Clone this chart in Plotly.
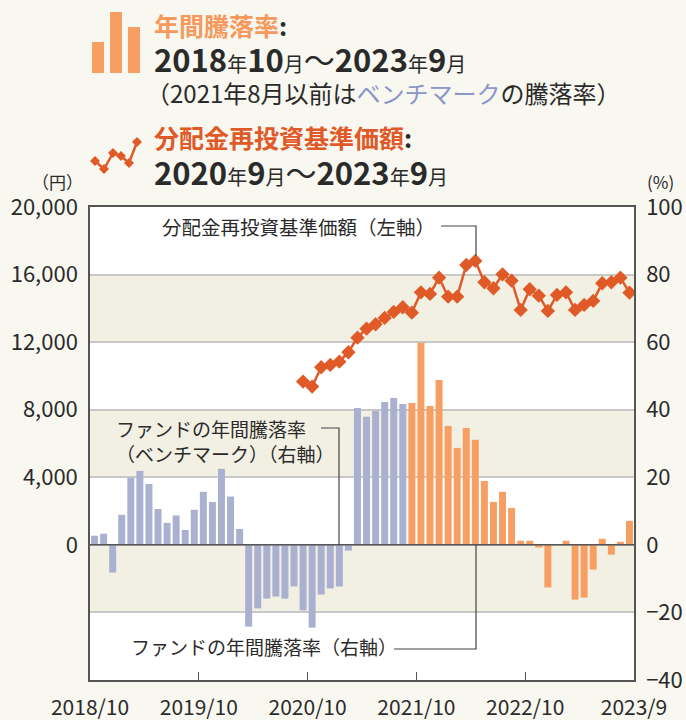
import plotly.graph_objects as go

W, H = 686, 720

# ---------------- data ----------------
tick_labels = ["2018/10", "2019/10", "2020/10", "2021/10", "2022/10", "2023/9"]
tick_months = [0, 12, 24, 36, 48, 60]

# annual return (%) 2018/10 .. 2021/8 : benchmark
bench_returns = [2.7, 3.3, -8.2, 8.9, 19.9, 21.9, 18.0, 10.6, 6.5, 8.7, 4.4, 10.4,
                 15.7, 12.7, 22.5, 14.3, 4.7, -24.2, -18.8, -15.9, -15.3, -15.9, -12.3, -19.4,
                 -24.5, -14.7, -12.9, -12.3, -1.7, 40.5, 37.9, 39.6, 42.3, 43.5, 41.7]
# annual return (%) 2021/9 .. 2023/9 : fund
fund_returns = [42.0, 59.8, 41.1, 48.8, 35.2, 28.7, 34.6, 31.1, 18.9, 12.7, 15.7, 10.9,
                1.2, 1.2, -0.8, -12.6, 0.0, 1.2, -16.2, -15.6, -7.3, 1.8, -2.9, 0.9, 7.1]
# NAV (yen) 2020/9 .. 2023/9
nav_values = [9663, 9367, 10515, 10651, 10846, 11402, 12266, 12799, 13059, 13432, 13787, 14065,
              13745, 14952, 14852, 15816, 14692, 14692, 16568, 16805, 15544, 15189, 16017, 15638,
              13905, 15130, 14751, 13846, 14793, 14952, 13905, 14201, 14437, 15485, 15544, 15816, 14929]
nav_start_index = 23  # 2020/9

left_ticks = [0, 4000, 8000, 12000, 16000, 20000]
right_ticks = [-40, -20, 0, 20, 40, 60, 80, 100]

# ---------------- styles ----------------
BG = "#f8f7f0"
BAND = "#f2efe3"
GRID = "#c8c8c8"
AXIS = "#555555"
ORANGE = "#f79f63"
BLUE = "#aab0cf"
RED = "#e05a28"
HEAD_ORANGE = "#f59a5c"
LAV = "#8c96c8"
TXT = "#2a2a2a"
FONT = "Noto Sans CJK JP"

x0px, x1px, y0px, y1px = 90, 634, 207, 680


def px(x):
    return x / W


def py(y):
    return 1 - y / H


bench_x = [i + 0.5 for i in range(len(bench_returns))]
fund_x = [len(bench_returns) + i + 0.5 for i in range(len(fund_returns))]
nav_x = [nav_start_index + i + 0.5 for i in range(len(nav_values))]

fig = go.Figure()
fig.add_trace(go.Bar(x=bench_x, y=bench_returns, marker=dict(color=BLUE, line_width=0),
                     width=0.77, yaxis="y2", xaxis="x"))
fig.add_trace(go.Bar(x=fund_x, y=fund_returns, marker=dict(color=ORANGE, line_width=0),
                     width=0.77, yaxis="y2", xaxis="x"))
fig.add_trace(go.Scatter(x=nav_x, y=nav_values, mode="lines+markers",
                         line=dict(color=RED, width=2.5),
                         marker=dict(symbol="diamond", size=11, color=RED),
                         yaxis="y", xaxis="x"))

shapes = []
# bands
for a, b in [(60, 80), (20, 40), (-20, 0)]:
    shapes.append(dict(type="rect", xref="x domain", yref="y2", x0=0, x1=1, y0=a, y1=b,
                       fillcolor=BAND, line_width=0, layer="below"))
# zero line
shapes.append(dict(type="line", xref="x domain", yref="y2", x0=0, x1=1, y0=0, y1=0,
                   line=dict(color=AXIS, width=1.5), layer="above"))

# connector lines (pixel -> paper)
def seg(pts):
    d = "M " + " L ".join(f"{px(a):.5f},{py(b):.5f}" for a, b in pts)
    return dict(type="path", xref="paper", yref="paper", path=d,
                line=dict(color="#444", width=1.2), layer="above")

shapes.append(seg([(441, 226), (476, 226), (476, 256)]))
shapes.append(seg([(321, 428), (339, 428), (339, 545)]))
shapes.append(seg([(394, 649), (476, 649), (476, 545)]))

# legend icon: bars
for (a, b, top) in [(92, 104, 42), (110, 122, 12), (128, 140, 27)]:
    shapes.append(dict(type="rect", xref="paper", yref="paper", x0=px(a), x1=px(b),
                       y0=py(73), y1=py(top), fillcolor=ORANGE, line_width=0))
# legend icon: line with diamonds
icon_pts = [(95, 161), (104, 169), (113, 153), (121, 156), (129, 163), (137, 142)]
shapes.append(dict(type="path", xref="paper", yref="paper",
                   path="M " + " L ".join(f"{px(a):.5f},{py(b):.5f}" for a, b in icon_pts),
                   line=dict(color=RED, width=2.5)))
for a, b in icon_pts:
    r = 5
    d = (f"M {px(a-r):.5f},{py(b):.5f} L {px(a):.5f},{py(b-r):.5f} "
         f"L {px(a+r):.5f},{py(b):.5f} L {px(a):.5f},{py(b+r):.5f} Z")
    shapes.append(dict(type="path", xref="paper", yref="paper", path=d,
                       fillcolor=RED, line_width=0))

ann = []


def A(text, x, y, size, xanchor="left", color=TXT, yanchor="middle"):
    ann.append(dict(text=text, x=px(x), y=py(y), xref="paper", yref="paper",
                    xanchor=xanchor, yanchor=yanchor, showarrow=False,
                    font=dict(size=size, color=color, family=FONT), align="left"))


S = "<span style='font-size:20px;font-weight:normal'>{}</span>"
T = "<span style='font-weight:normal'>～</span>"
A(f"<b><span style='color:{HEAD_ORANGE}'>年間騰落率</span>:</b>", 152, 25, 25)
A("<b>2018" + S.format("年") + "10" + S.format("月") + T + "2023" + S.format("年") + "9" + S.format("月") + "</b>",
  152, 58, 31)
A(f"（2021年8月以前は<span style='color:{LAV}'>ベンチマーク</span>の騰落率）", 144, 93, 24)
A(f"<b><span style='color:{RED}'>分配金再投資基準価額</span>:</b>", 152, 137, 25)
A("<b>2020" + S.format("年") + "9" + S.format("月") + T + "2023" + S.format("年") + "9" + S.format("月") + "</b>",
  152, 171, 31)

A("（円）", 57, 181, 17, xanchor="center")
A("(%)", 660, 181, 17, xanchor="center")

A("分配金再投資基準価額（左軸）", 437, 226, 19.5, xanchor="right")
A("ファンドの年間騰落率<br>（ベンチマーク）（右軸）", 114, 441, 19)
A("ファンドの年間騰落率（右軸）", 129, 646, 19)

fig.update_layout(
    width=W, height=H,
    margin=dict(l=0, r=0, t=0, b=0, autoexpand=False),
    paper_bgcolor=BG, plot_bgcolor="white",
    showlegend=False, barmode="overlay",
    font=dict(family=FONT, color=TXT, size=18),
    xaxis=dict(domain=[px(x0px), px(x1px)], range=[0, 60], tickvals=tick_months,
               ticktext=tick_labels, ticks="inside", ticklen=8, tickcolor=AXIS, tickwidth=1.2,
               showgrid=False, zeroline=False, showline=True, linecolor=AXIS, linewidth=1.5,
               mirror=True, tickfont=dict(size=21, color=TXT), anchor="y", automargin=False,
               ticklabelstandoff=8),
    yaxis=dict(domain=[py(y1px), py(y0px)], range=[-8000, 20000], tickvals=left_ticks,
               ticktext=[f"{v:,}" for v in left_ticks], showgrid=False, zeroline=False,
               showline=True, linecolor=AXIS, linewidth=1.5, ticks="",
               tickfont=dict(size=22, color=TXT), anchor="x", automargin=False,
               ticklabelstandoff=6),
    yaxis2=dict(domain=[py(y1px), py(y0px)], range=[-40, 100], tickvals=right_ticks,
                ticktext=[str(v).replace("-", "−") for v in right_ticks], overlaying="y",
                side="right", showgrid=True, gridcolor=GRID, gridwidth=1.5, zeroline=False,
                showline=True, linecolor=AXIS, linewidth=1.5, ticks="",
                tickfont=dict(size=22, color=TXT), anchor="x", automargin=False,
                ticklabelstandoff=6),
    shapes=shapes, annotations=ann,
)

fig.write_html("out.html")
